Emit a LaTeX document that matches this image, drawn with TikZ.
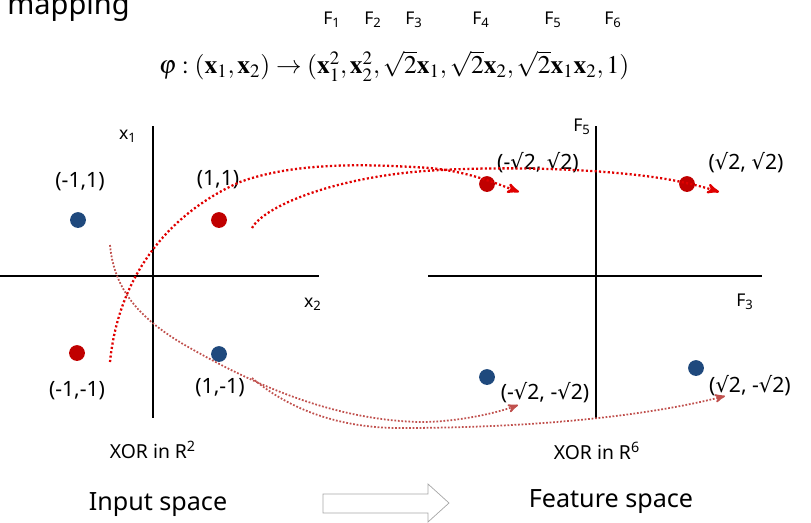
\documentclass[tikz,border=0pt]{standalone}
\usepackage{mathptmx}
\usepackage[no-math]{fontspec}
\setmainfont{Noto Sans}
\newfontfamily\symfont{DejaVu Sans}
\newcommand{\rootsym}{{\symfont √}}
\usetikzlibrary{arrows,positioning}

\definecolor{dotred}{HTML}{E00000}
\definecolor{palered}{HTML}{C0504D}
\definecolor{ptred}{HTML}{C00000}
\definecolor{ptblue}{HTML}{1F497D}
\definecolor{arrgray}{HTML}{A6A6A6}

\begin{document}
\begin{tikzpicture}[x=0.02cm,y=-0.02cm,
    axis/.style={line width=1.1pt},
    pt/.style={circle,inner sep=0pt,minimum size=9pt},
    lbl/.style={font=\fontsize{12}{14}\selectfont,inner sep=0pt},
    small/.style={font=\fontsize{10}{12}\selectfont,inner sep=0pt},
    mapto/.style={dotred,line width=1.3pt,dash pattern=on 1.2pt off 1.3pt,-stealth'},
    mapfaint/.style={palered,line width=1pt,dash pattern=on 1pt off 1pt,-stealth'}]

  \useasboundingbox (0,0) rectangle (811,522);

  \node[anchor=base west,inner sep=0pt,font=\fontsize{16.5}{18}\selectfont] (title) at (7,14) {mapping};

  \foreach \n/\x in {1/332,2/373,3/414,4/481,5/553,6/613}
    \node[small] (F\n) at (\x,20) {F\textsubscript{\n}};

  \node[font=\fontsize{14.5}{17}\selectfont] (phi) at (394,66)
    {$\varphi:(\mathbf{x}_1,\mathbf{x}_2)\rightarrow(\mathbf{x}_1^2,\mathbf{x}_2^2,\sqrt{2}\mathbf{x}_1,\sqrt{2}\mathbf{x}_2,\sqrt{2}\mathbf{x}_1\mathbf{x}_2,1)$};

  % input space
  \draw[axis] (153,126) -- (153,418);
  \draw[axis] (0,276) -- (319,276);
  \node[small] (x1) at (128,136) {x\textsubscript{1}};
  \node[small] (x2) at (313,304) {x\textsubscript{2}};

  \node[pt,fill=ptblue] (pmp) at (78,220) {};
  \node[pt,fill=ptred] (ppp) at (219,220) {};
  \node[pt,fill=ptred] (pmm) at (77,353) {};
  \node[pt,fill=ptblue] (ppm) at (219,354) {};

  \node[lbl] (lmp) at (80,182) {(-1,1)};
  \node[lbl] (lpp) at (218,180) {(1,1)};
  \node[lbl] (lmm) at (77,391) {(-1,-1)};
  \node[lbl] (lpm) at (220,388) {(1,-1)};

  % feature space
  \draw[axis] (596,126) -- (596,418);
  \draw[axis] (428,276) -- (762,276);
  \node[small] (f5) at (582,127) {F\textsubscript{5}};
  \node[small] (f3) at (745,302) {F\textsubscript{3}};

  \node[pt,fill=ptred] (qmp) at (487,184) {};
  \node[pt,fill=ptred] (qpp) at (687,184) {};
  \node[pt,fill=ptblue] (qmm) at (487,377) {};
  \node[pt,fill=ptblue] (qpm) at (696,368) {};

  \node[lbl] (lqmp) at (538,163) {(-\rootsym2, \rootsym2)};
  \node[lbl] (lqpp) at (746,163) {(\rootsym2, \rootsym2)};
  \node[lbl] (lqmm) at (545,393) {(-\rootsym2, -\rootsym2)};
  \node[lbl] (lqpm) at (750,386) {(\rootsym2, -\rootsym2)};

  % mapping curves
  \coordinate (a0) at (110,362);
  \coordinate (a1) at (519,192);
  \coordinate (b0) at (252,228);
  \coordinate (b1) at (719,192);
  \coordinate (c0) at (110,245);
  \coordinate (c1) at (518,405);
  \coordinate (d0) at (252,378);
  \coordinate (d1) at (725,396);

  \draw[mapto] (a0) .. controls (118,280) and (165,215) .. (240,182)
    .. controls (300,160) and (380,165) .. (430,168)
    .. controls (470,172) and (495,183) .. (a1);
  \draw[mapto] (b0) .. controls (265,205) and (340,175) .. (440,170)
    .. controls (540,165) and (640,172) .. (686,183)
    .. controls (700,186) and (710,189) .. (b1);
  \draw[mapfaint] (c0) .. controls (114,290) and (140,320) .. (190,348)
    .. controls (250,382) and (330,420) .. (420,422)
    .. controls (460,422) and (500,412) .. (c1);
  \draw[mapfaint] (d0) .. controls (290,410) and (340,428) .. (400,428)
    .. controls (520,428) and (640,418) .. (d1);

  \node[font=\fontsize{11}{13}\selectfont] (xor2) at (153,450) {XOR in R\textsuperscript{2}};
  \node[font=\fontsize{11}{13}\selectfont] (xor6) at (597,451) {XOR in R\textsuperscript{6}};

  \node[font=\fontsize{14.3}{16}\selectfont] (inp) at (158,505) {Input space};
  \node[font=\fontsize{14.3}{16}\selectfont] (feat) at (611,502) {Feature space};

  \draw[arrgray] (323,494) -- (428,494) -- (428,484) -- (449,503) -- (428,522)
    -- (428,513) -- (323,513) -- cycle;
\end{tikzpicture}
\end{document}
